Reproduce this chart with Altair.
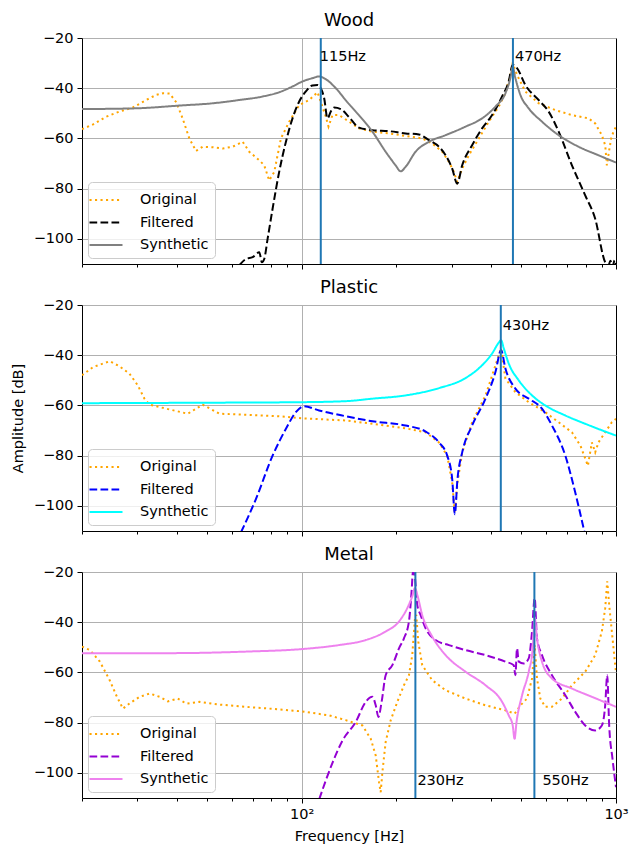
import altair as alt
import pandas as pd

FONT = "DejaVu Sans"
SERIES = ["Original", "Filtered", "Synthetic"]
X_TICKS = [20, 30, 40, 50, 60, 70, 80, 90, 100, 200, 300, 400, 500, 600, 700, 800, 900, 1000]
Y_TICKS = [-100, -80, -60, -40, -20]

# ---------------- Wood ----------------
WOOD_ORIG_F = [20.0, 21.7, 23.9, 26.3, 29.0, 32.0, 34.4, 36.2, 38.0, 39.9, 41.8, 43.9, 46.1,
               48.4, 52.1, 56.1, 60.3, 64.9, 68.1, 73.3, 76.0, 78.8, 81.8, 85.9, 91.3, 98.2,
               105.6, 112.3, 119.3, 121.7, 125.3, 131.5, 141.5, 152.2, 167.9, 189.6, 214.1,
               241.8, 260.2, 280.0, 294.0, 304.9, 312.4, 324.1, 340.2, 366.0, 393.9, 423.6,
               444.8, 461.3, 469.2, 484.3, 514.6, 567.5, 641.2, 724.1, 817.9, 858.7, 901.6,
               923.9, 935.2, 951.3, 965.4, 981.9, 1000.0]
WOOD_ORIG_DB = [-56.3, -54.4, -51.3, -49.3, -47.7, -44.7, -42.7, -42.0, -42.1, -45.6, -52.0,
                -60.0, -65.0, -63.3, -63.5, -64.0, -63.3, -61.3, -65.3, -68.7, -70.7, -76.7,
                -73.3, -60.0, -53.3, -46.7, -44.7, -41.6, -51.3, -55.3, -50.7, -50.7, -53.3,
                -56.0, -57.3, -58.0, -59.0, -60.0, -62.0, -65.3, -69.3, -73.3, -77.3, -72.0,
                -66.7, -60.0, -53.3, -47.3, -42.0, -34.7, -30.0, -34.7, -41.3, -46.0, -48.7,
                -50.7, -52.0, -54.0, -58.7, -62.7, -70.7, -64.7, -60.0, -57.3, -55.3]
WOOD_FILT_F = [63.3, 66.5, 69.8, 73.3, 74.7, 76.0, 77.9, 80.8, 84.8, 89.1, 93.5, 98.2, 103.1,
               108.2, 112.3, 115.0, 117.9, 120.8, 123.8, 126.8, 133.1, 141.5, 152.2, 167.9,
               189.6, 214.1, 236.1, 254.1, 273.3, 287.0, 301.2, 312.4, 324.1, 348.5, 374.9,
               403.5, 434.1, 455.7, 469.2, 484.3, 514.6, 567.5, 610.6, 657.0, 724.1, 798.1,
               858.7, 923.9, 946.6, 960.0, 975.0, 990.0, 1000.0]
WOOD_FILT_DB = [-110.5, -108.0, -107.3, -105.3, -109.3, -108.0, -100.0, -88.0, -73.3, -61.3,
                -52.0, -45.3, -41.3, -38.9, -38.7, -40.0, -44.0, -52.0, -49.3, -47.7, -48.3,
                -51.5, -55.7, -56.7, -57.1, -58.0, -58.4, -60.7, -63.3, -66.7, -72.0, -78.0,
                -70.7, -62.7, -56.0, -50.7, -43.3, -37.3, -30.7, -32.0, -38.7, -44.7, -49.3,
                -57.3, -70.7, -82.7, -92.0, -109.3, -110.5, -108.7, -111.0, -108.5, -110.0]
WOOD_SYN_F = [20.0, 29.8, 40.9, 52.1, 63.3, 75.1, 84.8, 93.5, 100.6, 108.2, 113.7, 119.3,
              128.4, 139.8, 148.6, 167.9, 185.0, 199.0, 206.4, 214.1, 230.3, 254.1, 287.0,
              332.0, 374.9, 413.5, 444.8, 461.3, 469.2, 478.5, 496.5, 527.6, 581.4, 657.0,
              760.3, 879.5, 1000.0]
WOOD_SYN_DB = [-48.3, -48.0, -46.9, -46.0, -44.7, -43.3, -41.6, -39.3, -37.3, -36.0, -35.3,
               -36.4, -40.0, -45.6, -49.3, -57.3, -65.3, -70.7, -73.1, -71.3, -65.3, -61.3,
               -58.7, -55.3, -52.0, -47.3, -42.0, -36.0, -31.5, -36.0, -42.7, -48.0, -53.3,
               -58.7, -63.3, -66.7, -69.6]
WOOD_PEAKS = [115, 470]

# ---------------- Plastic ----------------
PLASTIC_ORIG_F = [20.0, 21.7, 24.5, 26.3, 28.3, 30.1, 31.6, 32.8, 37.1, 43.4, 48.4, 54.7, 66.5,
                  84.8, 100.0, 138.1, 167.9, 214.1, 247.9, 273.3, 290.4, 301.2, 307.0, 313.1,
                  324.1, 348.5, 384.5, 413.5, 430.9, 444.8, 478.5, 527.6, 595.7, 657.0, 724.1,
                  770.5, 814.0, 838.0, 858.7, 879.5, 923.9, 970.0, 1000.0]
PLASTIC_ORIG_DB = [-48.0, -44.7, -42.4, -44.4, -47.3, -52.0, -57.3, -59.7, -61.3, -63.3, -59.7,
                   -63.3, -63.7, -64.3, -65.1, -66.0, -67.3, -69.1, -70.7, -74.7, -80.0, -90.7,
                   -102.7, -90.7, -78.7, -66.7, -56.0, -44.0, -37.3, -49.3, -54.7, -58.7, -62.7,
                   -66.7, -70.7, -76.0, -84.0, -74.7, -78.7, -74.7, -70.7, -66.7, -65.3]
PLASTIC_FILT_F = [64.1, 71.5, 80.8, 89.1, 95.8, 101.8, 113.6, 138.1, 167.9, 214.1, 247.9, 273.3,
                  290.4, 301.2, 307.0, 313.1, 324.1, 348.5, 384.5, 413.5, 430.9, 444.8, 478.5,
                  527.6, 581.4, 625.6, 689.9, 742.0, 794.0]
PLASTIC_FILT_DB = [-110.5, -97.3, -80.0, -69.3, -62.7, -60.3, -62.0, -64.3, -66.3, -68.0, -70.4,
                   -74.7, -80.0, -89.3, -103.3, -89.3, -78.7, -68.0, -57.3, -46.7, -38.0, -45.3,
                   -53.3, -57.3, -61.3, -68.0, -80.0, -94.7, -110.5]
PLASTIC_SYN_F = [20.0, 52.0, 100.0, 138.0, 167.9, 214.1, 273.3, 332.0, 374.9, 403.5, 423.6,
                 430.9, 439.5, 455.7, 490.4, 540.6, 595.7, 689.9, 798.1, 923.9, 1000.0]
PLASTIC_SYN_DB = [-59.1, -58.9, -58.7, -58.3, -57.3, -56.0, -53.1, -49.1, -44.0, -39.3, -35.0,
                  -34.0, -37.3, -43.3, -50.0, -56.0, -60.0, -64.0, -67.3, -70.4, -72.0]
PLASTIC_PEAKS = [430]

# ---------------- Metal ----------------
METAL_ORIG_F = [20.0, 21.2, 22.8, 24.5, 25.7, 27.0, 28.3, 30.5, 32.8, 35.3, 37.5, 40.3, 42.9,
                47.3, 54.7, 66.5, 84.8, 100.0, 122.3, 138.1, 156.0, 165.8, 172.0, 176.2, 178.4,
                180.6, 185.0, 191.9, 201.5, 211.5, 219.4, 224.8, 229.3, 231.5, 234.9, 241.8,
                260.2, 287.0, 332.0, 384.5, 444.8, 476.2, 496.5, 521.2, 540.6, 551.1, 560.6,
                574.4, 595.7, 625.6, 673.0, 724.1, 798.1, 858.7, 901.6, 923.9, 937.6, 951.3,
                970.0, 994.0, 1000.0]
METAL_ORIG_DB = [-49.7, -51.1, -55.7, -63.1, -69.1, -74.4, -72.4, -69.7, -68.4, -69.7, -71.5,
                 -70.4, -72.4, -71.7, -72.8, -73.7, -74.7, -75.5, -77.1, -79.0, -81.1, -86.4,
                 -93.1, -103.7, -107.7, -99.7, -87.7, -79.1, -71.7, -65.1, -61.1, -53.1, -38.4,
                 -37.1, -47.7, -57.1, -63.1, -67.1, -70.4, -73.1, -75.1, -76.4, -73.1, -70.4,
                 -62.4, -49.1, -62.4, -70.4, -73.7, -73.7, -70.4, -65.1, -59.7, -53.1, -43.7,
                 -34.4, -23.7, -33.1, -43.7, -57.1, -60.0]
METAL_FILT_F = [113.7, 125.3, 135.0, 148.6, 159.9, 167.9, 172.0, 175.4, 179.6, 185.0, 194.3,
                204.0, 211.5, 219.4, 223.7, 225.9, 228.5, 233.2, 238.9, 247.9, 266.7, 294.0,
                332.0, 384.5, 444.8, 472.8, 478.5, 484.3, 490.4, 508.6, 527.6, 540.6, 551.1,
                560.6, 581.4, 625.6, 689.9, 742.0, 798.1, 858.7, 901.6, 923.9, 937.6, 951.3,
                974.8, 1000.0]
METAL_FILT_DB = [-110.5, -96.0, -87.0, -79.7, -71.7, -69.7, -73.1, -77.7, -71.7, -61.1, -57.1,
                 -50.4, -46.4, -39.7, -27.7, -20.0, -21.0, -33.1, -37.1, -42.4, -47.1, -49.1,
                 -51.1, -53.1, -55.7, -57.1, -61.1, -50.4, -55.7, -56.4, -54.4, -43.7, -30.4,
                 -46.4, -53.1, -61.1, -69.1, -75.7, -81.1, -83.1, -81.1, -73.1, -61.1, -81.1,
                 -94.4, -105.7]
METAL_SYN_F = [20.0, 40.9, 66.5, 100.0, 131.5, 159.9, 185.0, 204.0, 216.7, 224.8, 229.3, 233.2,
               241.8, 260.2, 287.0, 332.0, 384.5, 434.1, 455.7, 469.2, 475.6, 482.6, 502.5,
               527.6, 543.2, 551.1, 560.6, 581.4, 625.6, 724.1, 838.0, 1000.0]
METAL_SYN_DB = [-52.4, -52.3, -51.7, -50.7, -49.1, -47.1, -43.7, -39.7, -34.4, -29.7, -26.4,
                -29.1, -37.1, -45.7, -53.1, -59.7, -65.1, -71.7, -77.1, -81.1, -86.4, -79.7,
                -69.1, -59.7, -50.4, -38.0, -46.4, -55.7, -62.4, -66.4, -69.7, -73.7]
METAL_PEAKS = [230, 550]

LINE_WIDTH = 2
DASHES = [[2.1, 3.4], [7.7, 3.3], [1, 0]]
CURVES = {"Original": "linear", "Filtered": "monotone", "Synthetic": "monotone"}
PEAK_COLOR = "#1f77b4"
MAJOR = "datum.value == 100 || datum.value == 1000"


def frame(f, db, name):
    return pd.DataFrame({"freq": f, "db": db, "series": name})


def panel(title, orig, filt, syn, colors, peaks, label_db, label_dx, bottom, middle):
    data = pd.concat([frame(*orig, "Original"), frame(*filt, "Filtered"),
                      frame(*syn, "Synthetic")], ignore_index=True)

    x_axis_opts = dict(
        values=X_TICKS,
        tickSize={"condition": {"test": MAJOR, "value": 5}, "value": 3},
        tickColor="black",
        grid=True,
        gridOpacity={"condition": {"test": "datum.value == 100", "value": 1}, "value": 0},
        labelOverlap=False,
    )
    if bottom:
        x_axis_opts.update(
            labelExpr="datum.value == 100 ? '10²' : datum.value == 1000 ? '10³' : ''",
            labelFontSize=14.5, labelPadding=4, labelFlush=False, title="Frequency [Hz]",
            titleFontSize=14.5, titleFontWeight="normal", titlePadding=9,
        )
    else:
        x_axis_opts.update(labels=False, title=None)

    y_axis = alt.Axis(
        values=Y_TICKS, tickSize=5, tickColor="black", grid=True, labelFontSize=14.5,
        labelPadding=4, title="Amplitude [dB]", titleFontSize=14.5,
        titleFontWeight="normal", titlePadding=8,
        titleColor="black" if middle else "transparent",
    )

    x = alt.X("freq:Q", scale=alt.Scale(type="log", domain=[20, 1000], nice=False),
              axis=alt.Axis(**x_axis_opts))
    y = alt.Y("db:Q", scale=alt.Scale(domain=[-110, -20], nice=False), axis=y_axis)

    legend = alt.Legend(
        title=None, orient="bottom-left", offset=6, fillColor="rgba(255,255,255,0.8)",
        strokeColor="#cccccc", cornerRadius=4, padding=6, labelFont=FONT,
        labelFontSize=14.5, labelOffset=22, symbolType="M-1.5,0H1.5", symbolSize=484,
        symbolStrokeWidth=2, rowPadding=3.5,
    )
    color = alt.Color("series:N", scale=alt.Scale(domain=SERIES, range=colors), legend=legend)
    dash = alt.StrokeDash("series:N", scale=alt.Scale(domain=SERIES, range=DASHES),
                          legend=legend)

    layers = []
    for s in SERIES:
        layers.append(
            alt.Chart(data).transform_filter(alt.datum.series == s)
            .mark_line(clip=True, strokeWidth=LINE_WIDTH, interpolate=CURVES[s])
            .encode(x=x, y=y, color=color, strokeDash=dash)
        )

    layers.append(
        alt.Chart(pd.DataFrame({"freq": peaks}))
        .mark_rule(color=PEAK_COLOR, strokeWidth=2)
        .encode(x=x)
    )
    for p, dx in zip(peaks, label_dx):
        layers.append(
            alt.Chart(pd.DataFrame({"freq": [p], "db": [label_db], "label": [f"{p}Hz"]}))
            .mark_text(align="left", baseline="alphabetic", font=FONT, fontSize=14.5,
                       color="black", dx=dx)
            .encode(x=x, y=y, text="label:N")
        )

    return alt.layer(*layers).properties(
        width=534, height=226,
        title=alt.TitleParams(title, font=FONT, fontSize=18, fontWeight="normal",
                              offset=0, color="black"),
    )


wood = panel("Wood", (WOOD_ORIG_F, WOOD_ORIG_DB), (WOOD_FILT_F, WOOD_FILT_DB),
             (WOOD_SYN_F, WOOD_SYN_DB), ["orange", "black", "gray"],
             WOOD_PEAKS, -29, [-1, 2], bottom=False, middle=False)
plastic = panel("Plastic", (PLASTIC_ORIG_F, PLASTIC_ORIG_DB), (PLASTIC_FILT_F, PLASTIC_FILT_DB),
                (PLASTIC_SYN_F, PLASTIC_SYN_DB), ["orange", "blue", "cyan"],
                PLASTIC_PEAKS, -30, [2], bottom=False, middle=True)
metal = panel("Metal", (METAL_ORIG_F, METAL_ORIG_DB), (METAL_FILT_F, METAL_FILT_DB),
              (METAL_SYN_F, METAL_SYN_DB), ["orange", "darkviolet", "violet"],
              METAL_PEAKS, -105, [2, 8], bottom=True, middle=False)

chart = (
    alt.vconcat(wood, plastic, metal, spacing=8)
    .resolve_scale(color="independent", strokeDash="independent")
    .resolve_legend(color="independent", strokeDash="independent")
    .properties(padding={"left": 9, "top": 11, "right": 0, "bottom": 0}, background="white")
    .configure_view(stroke="black", strokeWidth=1)
    .configure_axis(domain=False, labelFont=FONT, titleFont=FONT, labelColor="black",
                    gridColor="#b0b0b0", gridWidth=1)
)

chart.save("out.html", embed_options={"renderer": "svg", "actions": False})
